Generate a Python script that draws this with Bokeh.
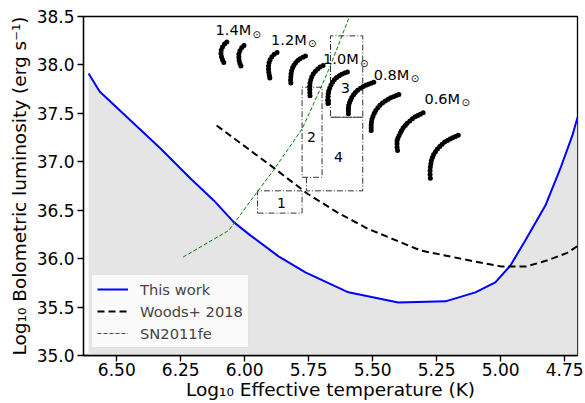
from bokeh.plotting import figure
from bokeh.models import Range1d, FixedTicker, PrintfTickFormatter, Legend, LegendItem
from bokeh.core.properties import value
from bokeh.embed import file_html
from bokeh.resources import INLINE

FONT = "DejaVu Sans"

# Limiting curve of this work (log Teff, log L)
this_work_logT = [6.610, 6.567, 6.446, 6.329, 6.212, 6.121, 6.043, 5.978, 5.868, 5.763,
                  5.595, 5.400, 5.216, 5.099, 5.021, 4.962, 4.904, 4.825, 4.767, 4.720, 4.700]
this_work_logL = [37.912, 37.726, 37.427, 37.138, 36.828, 36.601, 36.377, 36.240, 36.023, 35.858,
                  35.652, 35.548, 35.559, 35.652, 35.755, 35.930, 36.188, 36.550, 36.931, 37.272, 37.458]

# Woods+ 2018 curve
woods_logT = [6.110, 6.000, 5.888, 5.755, 5.640, 5.520, 5.314, 5.120, 5.000, 4.900, 4.820, 4.740, 4.700]
woods_logL = [37.375, 37.160, 36.940, 36.670, 36.480, 36.310, 36.085, 35.980, 35.920, 35.920, 35.980, 36.060, 36.130]

# SN2011fe constraint
sn2011fe_logT = [6.241, 6.062, 5.978, 5.888, 5.775, 5.704, 5.665, 5.591]
sn2011fe_logL = [36.016, 36.292, 36.594, 36.911, 37.344, 37.757, 37.994, 38.500]

# Evolutionary tracks, two per white-dwarf mass
track_14a_T = [6.070, 6.079, 6.087, 6.092, 6.093, 6.091, 6.087, 6.082]
track_14a_L = [38.237, 38.216, 38.185, 38.151, 38.118, 38.084, 38.053, 38.025]
track_14b_T = [6.003, 6.012, 6.019, 6.023, 6.023, 6.022, 6.019, 6.015]
track_14b_L = [38.201, 38.177, 38.146, 38.113, 38.079, 38.046, 38.015, 37.989]

track_12a_T = [5.874, 5.885, 5.894, 5.901, 5.905, 5.907, 5.907, 5.906, 5.904, 5.902]
track_12a_L = [38.128, 38.110, 38.084, 38.054, 38.022, 37.989, 37.956, 37.924, 37.893, 37.865]
track_12b_T = [5.763, 5.773, 5.784, 5.793, 5.801, 5.808, 5.813, 5.817, 5.819, 5.820, 5.821, 5.820]
track_12b_L = [38.092, 38.080, 38.064, 38.046, 38.023, 37.997, 37.970, 37.940, 37.909, 37.877, 37.845, 37.814]

track_10a_T = [5.694, 5.705, 5.715, 5.724, 5.732, 5.738, 5.742, 5.745, 5.746, 5.746, 5.746, 5.745]
track_10a_L = [37.994, 37.978, 37.958, 37.934, 37.908, 37.878, 37.846, 37.813, 37.780, 37.747, 37.714, 37.682]
track_10b_T = [5.599, 5.610, 5.621, 5.631, 5.641, 5.650, 5.657, 5.663, 5.668, 5.672, 5.674, 5.675, 5.676, 5.675]
track_10b_L = [37.927, 37.917, 37.905, 37.889, 37.870, 37.848, 37.822, 37.793, 37.763, 37.732, 37.700, 37.668, 37.635, 37.602]

track_08a_T = [5.496, 5.506, 5.517, 5.527, 5.537, 5.548, 5.559, 5.568, 5.575, 5.582, 5.587, 5.591, 5.594, 5.595, 5.595, 5.595]
track_08a_L = [37.822, 37.812, 37.801, 37.791, 37.778, 37.760, 37.739, 37.716, 37.692, 37.664, 37.636, 37.609, 37.582, 37.554, 37.527, 37.496]
track_08b_T = [5.398, 5.408, 5.419, 5.430, 5.440, 5.451, 5.462, 5.472, 5.480, 5.488, 5.494, 5.499, 5.503, 5.505, 5.506, 5.506, 5.506]
track_08b_L = [37.695, 37.685, 37.672, 37.660, 37.646, 37.628, 37.607, 37.584, 37.558, 37.530, 37.501, 37.471, 37.441, 37.411, 37.381, 37.351, 37.322]

track_06a_T = [5.303, 5.314, 5.324, 5.334, 5.345, 5.355, 5.366, 5.373, 5.381, 5.387, 5.392, 5.397, 5.402, 5.405, 5.405, 5.405, 5.403]
track_06a_L = [37.506, 37.492, 37.478, 37.465, 37.444, 37.420, 37.399, 37.375, 37.351, 37.324, 37.300, 37.272, 37.244, 37.217, 37.186, 37.151, 37.117]
track_06b_T = [5.166, 5.177, 5.188, 5.198, 5.208, 5.219, 5.229, 5.238, 5.247, 5.255, 5.262, 5.267, 5.271, 5.273, 5.275, 5.276, 5.276, 5.275]
track_06b_L = [37.275, 37.262, 37.248, 37.234, 37.220, 37.203, 37.182, 37.158, 37.131, 37.104, 37.076, 37.045, 37.014, 36.980, 36.945, 36.908, 36.869, 36.831]

tracks = [
    (track_14a_T, track_14a_L), (track_14b_T, track_14b_L),
    (track_12a_T, track_12a_L), (track_12b_T, track_12b_L),
    (track_10a_T, track_10a_L), (track_10b_T, track_10b_L),
    (track_08a_T, track_08a_L), (track_08b_T, track_08b_L),
    (track_06a_T, track_06a_L), (track_06b_T, track_06b_L),
]

mass_labels = ["1.4M", "1.2M", "1.0M", "0.8M", "0.6M"]
mass_label_T = [6.114, 5.897, 5.694, 5.496, 5.298]
mass_label_L = [38.356, 38.261, 38.058, 37.899, 37.649]

# Observational regions 1-4
region1_T = [5.950, 5.776, 5.776, 5.950, 5.950]
region1_L = [36.470, 36.470, 36.700, 36.700, 36.470]
region2_T = [5.776, 5.698, 5.698, 5.776, 5.776]
region2_L = [36.840, 36.840, 37.770, 37.770, 36.840]
region3_T = [5.665, 5.539, 5.539, 5.665, 5.665]
region3_L = [37.460, 37.460, 38.300, 38.300, 37.460]
region4_T = [5.759, 5.759, 5.539, 5.539, 5.665]
region4_L = [36.840, 36.700, 36.700, 37.460, 37.460]
region_labels = ["1", "2", "3", "4"]
region_label_T = [5.857, 5.739, 5.607, 5.634]
region_label_L = [36.570, 37.260, 37.757, 37.045]

x_ticks = [6.50, 6.25, 6.00, 5.75, 5.50, 5.25, 5.00, 4.75]
y_ticks = [35.0, 35.5, 36.0, 36.5, 37.0, 37.5, 38.0, 38.5]

p = figure(frame_width=494, frame_height=339, output_backend="svg", toolbar_location=None,
           x_range=Range1d(6.63, 4.70), y_range=Range1d(35.0, 38.5),
           min_border_left=83, min_border_right=8, min_border_top=16, min_border_bottom=48)
p.grid.visible = False
p.background_fill_color = "white"
p.border_fill_color = "white"
p.outline_line_color = "black"
p.outline_line_width = 1.3

# shaded region below this work's curve
p.varea(x=this_work_logT, y1=35.0, y2=this_work_logL, fill_color="#e5e5e5")

blue = p.line(this_work_logT, this_work_logL, line_color="#0000ff", line_width=2)
woods = p.line(woods_logT, woods_logL, line_color="black", line_width=2, line_dash="7 4")
sn = p.line(sn2011fe_logT, sn2011fe_logL, line_color="#008000", line_width=1, line_dash="4 2")

dash_dot = "6 2 1 2"
for rt, rl in [(region1_T, region1_L), (region2_T, region2_L),
               (region3_T, region3_L), (region4_T, region4_L)]:
    p.line(rt, rl, line_color="#333333", line_width=1, line_dash=dash_dot)

p.text(region_label_T, region_label_L, text=region_labels, text_font=value(FONT),
       text_font_size="14px", text_align="center", text_baseline="middle", text_color="black")

for tt, tl in tracks:
    p.scatter(tt, tl, size=5, fill_color="black", line_color=None)

p.text(mass_label_T, mass_label_L, text=mass_labels, text_font=value(FONT),
       text_font_size="14.5px", text_align="left", text_baseline="middle", text_color="black")
p.text(mass_label_T, mass_label_L, text=["\u2299"] * len(mass_labels), text_font=value(FONT),
       text_font_size="10px", text_align="left", text_baseline="middle", text_color="black",
       x_offset=37, y_offset=4)

# axes
p.xaxis.ticker = FixedTicker(ticks=x_ticks)
p.yaxis.ticker = FixedTicker(ticks=y_ticks)
p.xaxis.formatter = PrintfTickFormatter(format="%.2f")
p.yaxis.formatter = PrintfTickFormatter(format="%.1f")
p.xaxis.axis_label = "Log\u2081\u2080 Effective temperature (K)"
p.yaxis.axis_label = "Log\u2081\u2080 Bolometric luminosity (erg s\u207b\u00b9)"
for ax in (p.xaxis, p.yaxis):
    ax.major_label_text_font = FONT
    ax.major_label_text_font_size = "17px"
    ax.major_label_text_color = "black"
    ax.axis_label_text_font = FONT
    ax.axis_label_text_font_size = "18.5px"
    ax.axis_label_text_font_style = "normal"
    ax.axis_label_text_color = "black"
    ax.axis_line_color = "black"
    ax.axis_line_width = 1.3
    ax.major_tick_line_color = "black"
    ax.major_tick_line_width = 1.3
    ax.major_tick_out = 6
    ax.major_tick_in = 0
    ax.minor_tick_line_color = None
p.xaxis.major_label_standoff = 1
p.xaxis.axis_label_standoff = 0
p.yaxis.major_label_standoff = 3
p.yaxis.axis_label_standoff = 4

legend = Legend(items=[LegendItem(label="This work", renderers=[blue]),
                       LegendItem(label="Woods+ 2018", renderers=[woods]),
                       LegendItem(label="SN2011fe", renderers=[sn])],
                location=(8, 7), label_text_font=FONT, label_text_font_size="14.7px",
                glyph_width=31, glyph_height=16, label_height=18, label_standoff=12,
                spacing=4, padding=5, margin=0,
                background_fill_color="white", background_fill_alpha=0.8,
                border_line_color="#cccccc", border_line_width=1)
p.add_layout(legend)

open("out.html", "w").write(file_html(p, INLINE))
